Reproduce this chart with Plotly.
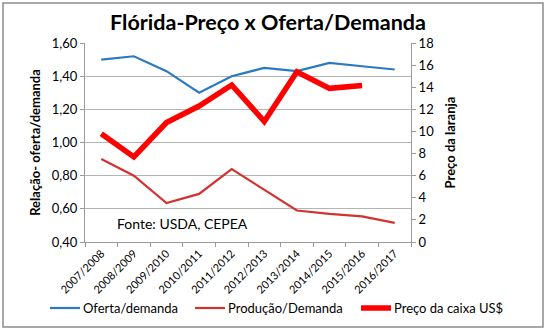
import plotly.graph_objects as go

safras = ["2007/2008", "2008/2009", "2009/2010", "2010/2011", "2011/2012",
          "2012/2013", "2013/2014", "2014/2015", "2015/2016", "2016/2017"]
oferta_demanda = [1.50, 1.52, 1.43, 1.30, 1.40, 1.45, 1.43, 1.48, 1.46, 1.44]
producao_demanda = [0.90, 0.80, 0.635, 0.69, 0.84, 0.715, 0.59, 0.57, 0.555, 0.515]
preco_caixa = [9.8, 7.7, 10.8, 12.3, 14.2, 10.9, 15.4, 13.9, 14.15, None]

left_ticks = [0.40, 0.60, 0.80, 1.00, 1.20, 1.40, 1.60]
left_ticktext = ["0,40", "0,60", "0,80", "1,00", "1,20", "1,40", "1,60"]
right_ticks = [0, 2, 4, 6, 8, 10, 12, 14, 16, 18]

W, H = 550, 336
L, R, T, B = 85, 139, 43, 94
pw, ph = W - L - R, H - T - B

FONT = "Lato"

series = [
    dict(name="Oferta/demanda", y=oferta_demanda, color="#2a7ac0", width=2.2, axis="y"),
    dict(name="Produção/Demanda", y=producao_demanda, color="#d3332f", width=2.2, axis="y"),
    dict(name="Preço da caixa US$", y=preco_caixa, color="#ff0000", width=5.5, axis="y2"),
]

fig = go.Figure()
for s in series:
    fig.add_trace(go.Scatter(x=safras, y=s["y"], name=s["name"], mode="lines",
                             line=dict(color=s["color"], width=s["width"]),
                             yaxis=s["axis"], showlegend=False))


def px_x(p):
    return (p - L) / pw


def px_y(p):
    return (H - B - p) / ph


fig.update_layout(
    width=W, height=H,
    margin=dict(l=L, r=R, t=T, b=B),
    paper_bgcolor="white", plot_bgcolor="white",
    font=dict(family=FONT, color="black", size=12),
    title=dict(text="<b>Flórida-Preço x Oferta/Demanda</b>",
               font=dict(family=FONT, size=21.5, color="black"),
               x=268 / W, xanchor="center", xref="container",
               y=1 - 22 / H, yanchor="middle", yref="container"),
    xaxis=dict(type="category", tickangle=-45, tickfont=dict(size=11),
               showgrid=False, showline=True, linecolor="#9a9a9a", linewidth=1,
               ticks="outside", ticklen=4, tickcolor="#9a9a9a",
               tickson="boundaries", range=[-0.5, 9.5]),
    yaxis=dict(range=[0.40, 1.60], tickvals=left_ticks, ticktext=left_ticktext,
               tickfont=dict(size=13), showgrid=True, gridcolor="#b4b4b4",
               gridwidth=1, showline=True, linecolor="#9a9a9a", linewidth=1,
               ticks="outside", ticklen=4, tickcolor="#9a9a9a", zeroline=False,
               title=dict(text="<b>Relação- oferta/demanda</b>",
                          font=dict(size=13), standoff=8)),
    yaxis2=dict(range=[0, 18], tickvals=right_ticks, overlaying="y", side="right",
                tickfont=dict(size=13), showgrid=False, showline=True,
                linecolor="#9a9a9a", linewidth=1, ticks="outside", ticklen=4,
                tickcolor="#9a9a9a", zeroline=False,
                title=dict(text="<b>Preço da laranja</b>", font=dict(size=13),
                           standoff=12)),
    showlegend=False,
)

# manual single-row legend
legend_line_x = [(50, 80), (195, 225), (361, 391)]
legend_y = 308
for s, (x0, x1) in zip(series, legend_line_x):
    fig.add_shape(type="line", xref="paper", yref="paper",
                  x0=px_x(x0), x1=px_x(x1), y0=px_y(legend_y), y1=px_y(legend_y),
                  line=dict(color=s["color"], width=s["width"]))
    fig.add_annotation(text=s["name"], xref="paper", yref="paper",
                       x=px_x(x1 + 1), y=px_y(legend_y), xanchor="left",
                       yanchor="middle", showarrow=False,
                       font=dict(size=13, color="black"))

fig.add_annotation(text="Fonte: USDA, CEPEA", xref="paper", yref="paper",
                   x=px_x(115), y=px_y(223), xanchor="left", yanchor="middle",
                   showarrow=False, font=dict(size=14, color="black"))

fig.add_shape(type="rect", xref="paper", yref="paper",
              x0=px_x(3), x1=px_x(543), y0=px_y(327), y1=px_y(3),
              line=dict(color="#8c8c8c", width=1.5), fillcolor="rgba(0,0,0,0)",
              layer="below")

fig.write_html("out.html")
